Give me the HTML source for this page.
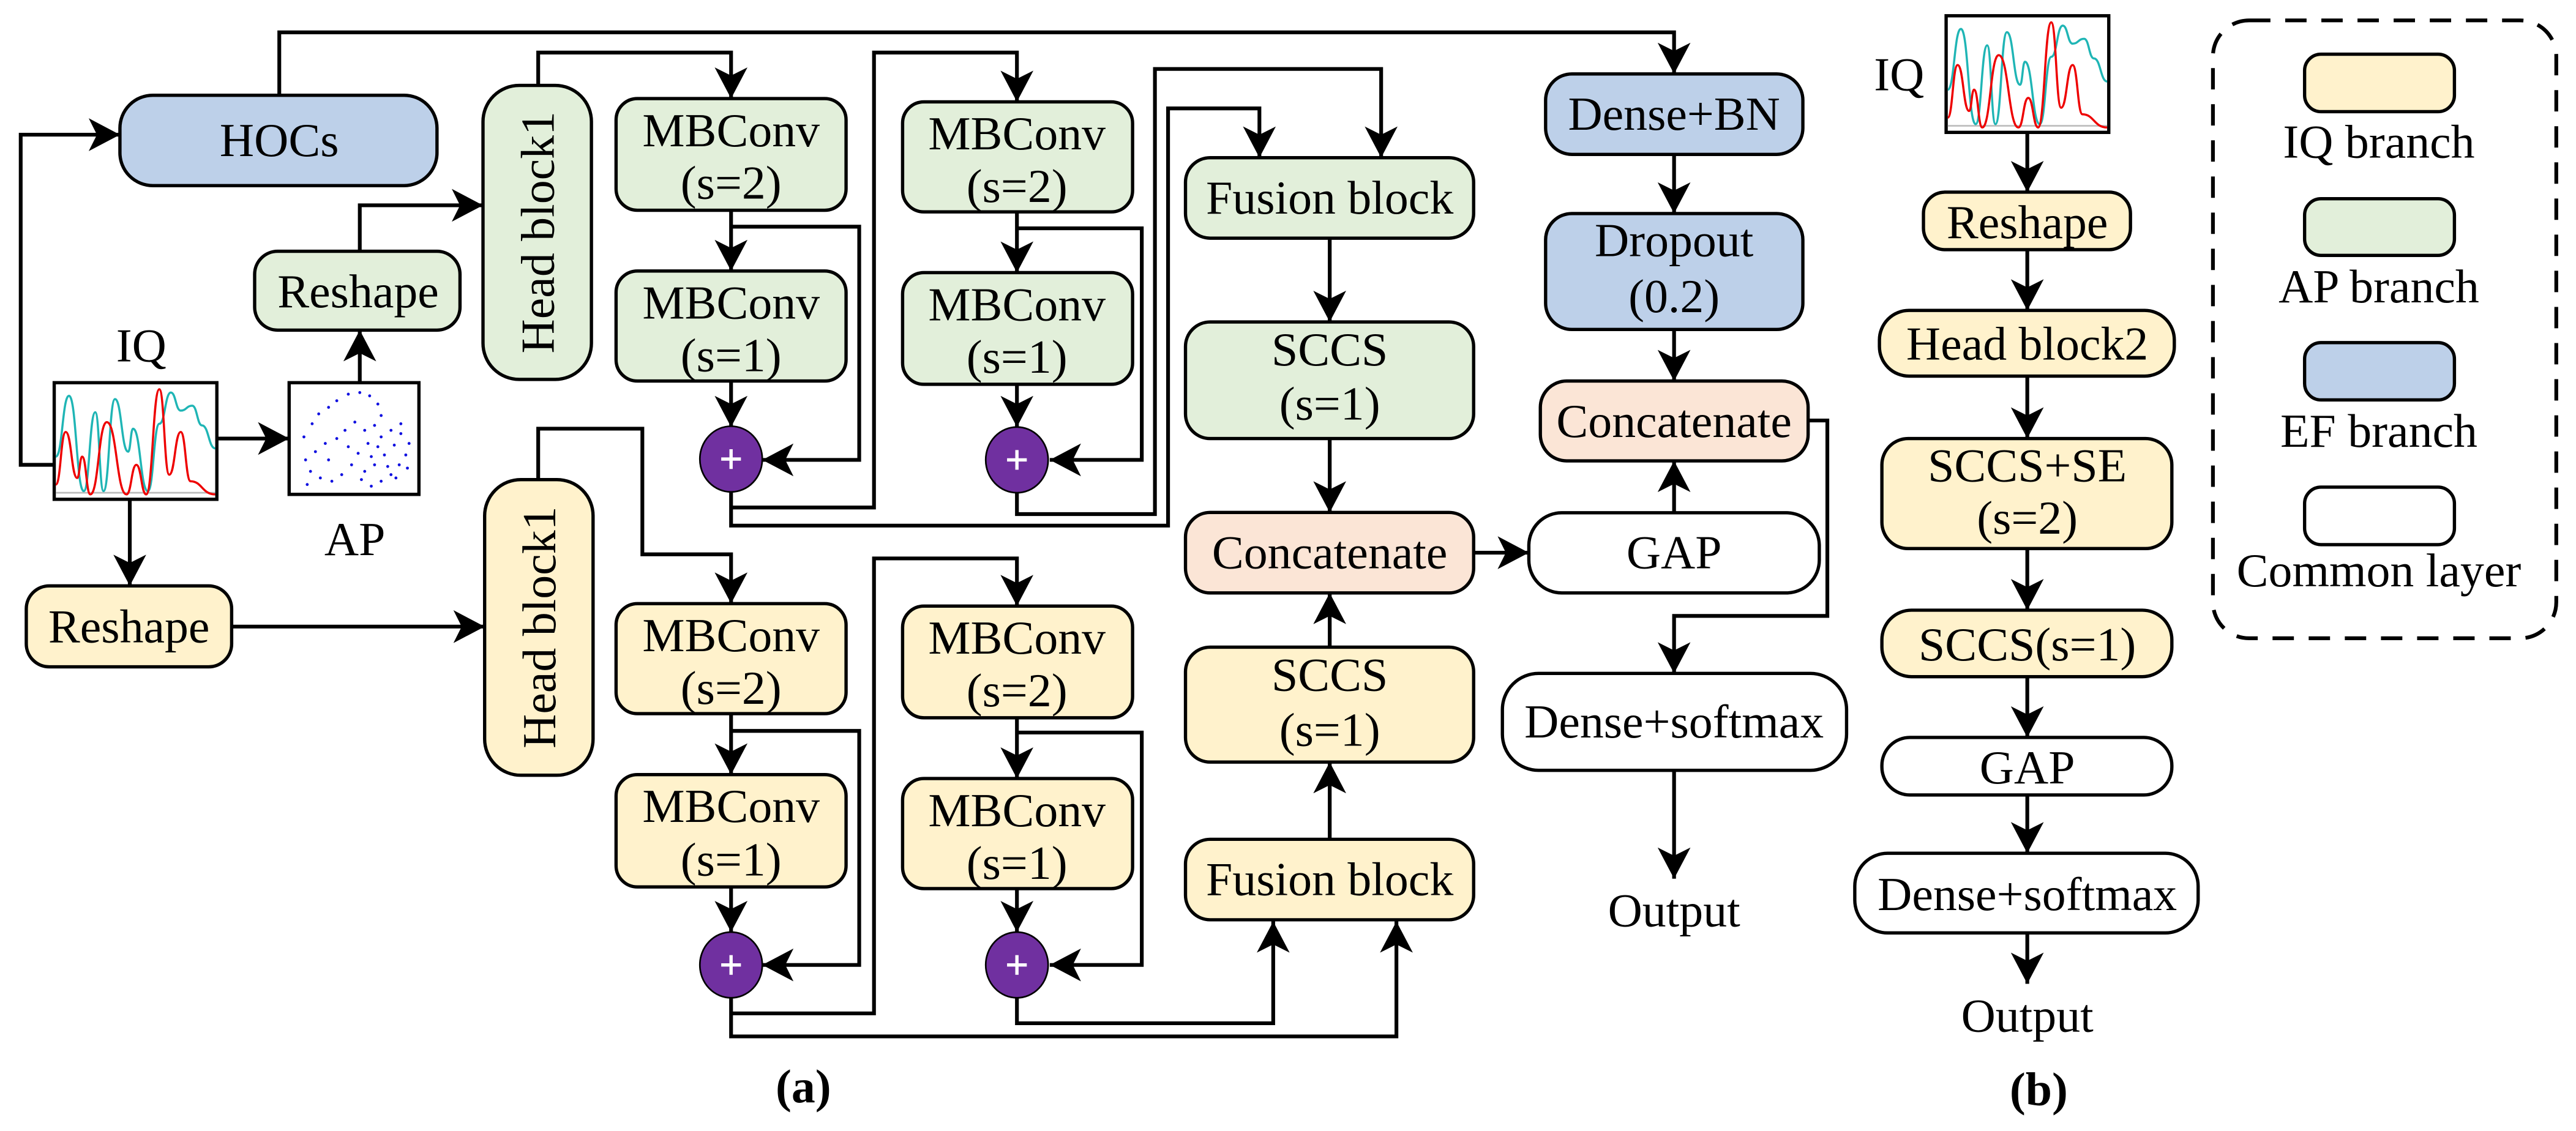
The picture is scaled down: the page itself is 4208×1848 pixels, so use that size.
<!DOCTYPE html>
<html><head><meta charset="utf-8"><style>
html,body{margin:0;padding:0;background:#fff}
svg{display:block}
text{font-family:"Liberation Serif",serif;font-size:29px;fill:#000}
</style></head><body>
<svg width="4208" height="1848" viewBox="0 0 1568 688.6" preserveAspectRatio="none" xmlns="http://www.w3.org/2000/svg">
<defs>
<marker id="a" markerUnits="userSpaceOnUse" markerWidth="20" markerHeight="20" refX="19" refY="10" orient="auto">
<path d="M0,0 L19,10 L0,20 L5,10 Z" fill="#000"/>
</marker>
<clipPath id="pc"><rect x="0" y="0" width="99" height="71"/></clipPath>
<g id="iq">
<rect x="0" y="0" width="99" height="71" fill="#fff" stroke="#000" stroke-width="2"/>
<line x1="1" y1="67" x2="98" y2="67" stroke="#bbb" stroke-width="1"/>
<g clip-path="url(#pc)" fill="none" stroke-width="1.3">
<path stroke="#1fb5b5" d="M1,45 C5,45 5,8 9,8 C13.5,8 13.5,66 18,66 C21.5,66 21.5,18 25,18 C27.5,18 27.5,66 30,66 C33.5,66 33.5,10 37,10 C41,10 41,42 45,42 C46.5,42 46.5,28 48,28 C52.5,28 52.5,66 57,66 C60.5,66 60.5,25 64,25 C67.5,25 67.5,6 71,6 C74,6 74,17 77,17 C80.5,17 80.5,14 84,14 C87,14 87,26 90,26 C94,26 94,40 98,40"/>
<path stroke="#e00" d="M1,62 C4,62 4,30 7,30 C10.5,30 10.5,58 14,58 C15.5,58 15.5,45 17,45 C19.5,45 19.5,68 22,68 C27,68 27,24 32,24 C38,24 38,68 44,68 C47,68 47,50 50,50 C53,50 53,68 56,68 C60,68 60,4 64,4 C67,4 67,56 70,56 C73.5,56 73.5,30 77,30 C80,30 80,60 83,60 C90,60 90,68 98,68"/>
</g>
</g>
</defs>
<g fill="none" stroke="#000" stroke-width="2.3" stroke-linejoin="miter">
<path d="M170,58 V19.7 H1019 V45" marker-end="url(#a)"/>
<path d="M33,283 H12.6 V82 H73" marker-end="url(#a)"/>
<path d="M132,267 H176" marker-end="url(#a)"/>
<path d="M219,233 V201" marker-end="url(#a)"/>
<path d="M219,153 V125 H294" marker-end="url(#a)"/>
<path d="M327.6,52 V32 H445 V60" marker-end="url(#a)"/>
<path d="M445,128 V165" marker-end="url(#a)"/>
<path d="M445,232 V260" marker-end="url(#a)"/>
<path d="M445,138 H523 V280 H464" marker-end="url(#a)"/>
<path d="M445,299 V320 H711 V66 H766.6 V96" marker-end="url(#a)"/>
<path d="M445,309 H532 V32 H619 V62" marker-end="url(#a)"/>
<path d="M619,129 V166" marker-end="url(#a)"/>
<path d="M619,234 V260" marker-end="url(#a)"/>
<path d="M619,139 H695 V280 H639" marker-end="url(#a)"/>
<path d="M619,300 V313 H703 V42 H840.7 V96" marker-end="url(#a)"/>
<path d="M809.4,145 V196" marker-end="url(#a)"/>
<path d="M809.4,267 V312" marker-end="url(#a)"/>
<path d="M897,336.5 H930.6" marker-end="url(#a)"/>
<path d="M79,304 V356.7" marker-end="url(#a)"/>
<path d="M141,381.5 H295" marker-end="url(#a)"/>
<path d="M327.6,292 V261 H391 V337.5 H445 V367.5" marker-end="url(#a)"/>
<path d="M445,434.4 V471.6" marker-end="url(#a)"/>
<path d="M445,540 V567.5" marker-end="url(#a)"/>
<path d="M445,445 H523 V587.5 H464" marker-end="url(#a)"/>
<path d="M445,607 V631 H850 V561" marker-end="url(#a)"/>
<path d="M445,617 H532 V340 H619 V369" marker-end="url(#a)"/>
<path d="M619,437 V474" marker-end="url(#a)"/>
<path d="M619,541 V567.5" marker-end="url(#a)"/>
<path d="M619,446 H695 V587.5 H639" marker-end="url(#a)"/>
<path d="M619,607 V623 H775 V561" marker-end="url(#a)"/>
<path d="M809.4,511 V464" marker-end="url(#a)"/>
<path d="M809.4,394 V361" marker-end="url(#a)"/>
<path d="M1019,94 V130" marker-end="url(#a)"/>
<path d="M1019,200.6 V232" marker-end="url(#a)"/>
<path d="M1019,312 V280.6" marker-end="url(#a)"/>
<path d="M1100.6,256 H1112.3 V375 H1019 V410" marker-end="url(#a)"/>
<path d="M1019,469 V535" marker-end="url(#a)"/>
<path d="M1234,80.4 V117" marker-end="url(#a)"/>
<path d="M1234,152 V189" marker-end="url(#a)"/>
<path d="M1234,229 V267" marker-end="url(#a)"/>
<path d="M1234,334 V371.5" marker-end="url(#a)"/>
<path d="M1234,412 V449" marker-end="url(#a)"/>
<path d="M1234,484 V519.5" marker-end="url(#a)"/>
<path d="M1234,568 V599" marker-end="url(#a)"/>
</g>
<g stroke="#000" stroke-width="2">
<rect x="73" y="58" width="193" height="55" rx="20" fill="#bdd0e9"/>
<rect x="155" y="153" width="125" height="48" rx="14" fill="#e2efda"/>
<rect x="294" y="52" width="66" height="179" rx="22" fill="#e2efda"/>
<rect x="375" y="60" width="140" height="68" rx="13" fill="#e2efda"/>
<rect x="375" y="165" width="140" height="67" rx="13" fill="#e2efda"/>
<rect x="549.4" y="62" width="140" height="67" rx="13" fill="#e2efda"/>
<rect x="549.4" y="166" width="140" height="68" rx="13" fill="#e2efda"/>
<rect x="721.6" y="96" width="175.4" height="49" rx="15" fill="#e2efda"/>
<rect x="721.6" y="196" width="175.4" height="71" rx="15" fill="#e2efda"/>
<rect x="721.6" y="312" width="175.4" height="49" rx="15" fill="#fbe5d6"/>
<rect x="16" y="356.7" width="125" height="49.3" rx="14" fill="#fff2cc"/>
<rect x="295" y="292" width="66" height="180" rx="22" fill="#fff2cc"/>
<rect x="375" y="367.5" width="140" height="67" rx="13" fill="#fff2cc"/>
<rect x="375" y="471.6" width="140" height="68.4" rx="13" fill="#fff2cc"/>
<rect x="549.4" y="369" width="140" height="68" rx="13" fill="#fff2cc"/>
<rect x="549.4" y="474" width="140" height="67" rx="13" fill="#fff2cc"/>
<rect x="721.6" y="394" width="175.4" height="70" rx="15" fill="#fff2cc"/>
<rect x="721.6" y="511" width="175.4" height="49" rx="15" fill="#fff2cc"/>
<rect x="940.8" y="45" width="156.6" height="49" rx="16" fill="#bdd0e9"/>
<rect x="940.8" y="130" width="156.6" height="70.6" rx="16" fill="#bdd0e9"/>
<rect x="937.6" y="232" width="163" height="48.6" rx="16" fill="#fbe5d6"/>
<rect x="930.6" y="312.2" width="176.8" height="48.8" rx="20" fill="#fff"/>
<rect x="914.5" y="410" width="209.5" height="59" rx="22" fill="#fff"/>
<rect x="1170.8" y="117" width="126" height="35" rx="13" fill="#fff2cc"/>
<rect x="1144" y="189" width="179.5" height="40" rx="18" fill="#fff2cc"/>
<rect x="1145.5" y="267" width="176.5" height="67" rx="16" fill="#fff2cc"/>
<rect x="1145.5" y="371.5" width="176.5" height="40.5" rx="18" fill="#fff2cc"/>
<rect x="1145.5" y="449" width="176.5" height="35" rx="17" fill="#fff"/>
<rect x="1129" y="519.5" width="209" height="48.5" rx="20" fill="#fff"/>
<rect x="1402.8" y="33" width="91.2" height="35" rx="10" fill="#fff2cc"/>
<rect x="1402.8" y="121" width="91.2" height="34.5" rx="10" fill="#e2efda"/>
<rect x="1402.8" y="208.6" width="91.2" height="34.9" rx="10" fill="#bdd0e9"/>
<rect x="1402.8" y="296.6" width="91.2" height="35" rx="10" fill="#fff"/>
<rect x="1347" y="12.4" width="209" height="376.2" rx="22" fill="none" stroke-width="2.3" stroke-dasharray="13 9"/>
<ellipse cx="445" cy="279.5" rx="19" ry="20" fill="#7030a0" stroke-width="1"/>
<ellipse cx="619" cy="280" rx="19" ry="20" fill="#7030a0" stroke-width="1"/>
<ellipse cx="445" cy="587.5" rx="19" ry="20" fill="#7030a0" stroke-width="1"/>
<ellipse cx="619" cy="587.5" rx="19" ry="20" fill="#7030a0" stroke-width="1"/>
</g>
<g stroke="#fff" stroke-width="2">
<path d="M439,279.5 H451 M445,273.5 V285.5"/>
<path d="M613,280 H625 M619,274 V286"/>
<path d="M439,587.5 H451 M445,581.5 V593.5"/>
<path d="M613,587.5 H625 M619,581.5 V593.5"/>
</g>
<use href="#iq" transform="translate(33,233)"/>
<use href="#iq" transform="translate(1184.6,9.6)"/>
<rect x="176" y="233" width="79" height="68" fill="#fff" stroke="#000" stroke-width="2"/>
<g fill="#1010e0">
<circle cx="190" cy="258" r="0.9"/><circle cx="194" cy="252" r="0.9"/><circle cx="200" cy="248" r="0.9"/><circle cx="205" cy="244" r="0.9"/><circle cx="212" cy="240" r="0.9"/><circle cx="219" cy="239" r="0.9"/><circle cx="225" cy="241" r="0.9"/><circle cx="230" cy="246" r="0.9"/><circle cx="232" cy="253" r="0.9"/><circle cx="228" cy="259" r="0.9"/><circle cx="222" cy="262" r="0.9"/><circle cx="216" cy="257" r="0.9"/><circle cx="210" cy="262" r="0.9"/><circle cx="205" cy="267" r="0.9"/><circle cx="198" cy="270" r="0.9"/><circle cx="192" cy="275" r="0.9"/><circle cx="186" cy="280" r="0.9"/><circle cx="189" cy="287" r="0.9"/><circle cx="195" cy="291" r="0.9"/><circle cx="202" cy="293" r="0.9"/><circle cx="208" cy="289" r="0.9"/><circle cx="214" cy="283" r="0.9"/><circle cx="218" cy="276" r="0.9"/><circle cx="224" cy="270" r="0.9"/><circle cx="232" cy="266" r="0.9"/><circle cx="238" cy="262" r="0.9"/><circle cx="244" cy="264" r="0.9"/><circle cx="249" cy="270" r="0.9"/><circle cx="247" cy="277" r="0.9"/><circle cx="243" cy="283" r="0.9"/><circle cx="238" cy="289" r="0.9"/><circle cx="232" cy="293" r="0.9"/><circle cx="226" cy="296" r="0.9"/><circle cx="220" cy="292" r="0.9"/><circle cx="228" cy="283" r="0.9"/><circle cx="234" cy="277" r="0.9"/><circle cx="240" cy="271" r="0.9"/><circle cx="222" cy="287" r="0.9"/><circle cx="236" cy="284" r="0.9"/><circle cx="244" cy="258" r="0.9"/><circle cx="185" cy="266" r="0.9"/><circle cx="200" cy="280" r="0.9"/><circle cx="230" cy="272" r="0.9"/><circle cx="241" cy="291" r="0.9"/><circle cx="226" cy="278" r="0.9"/><circle cx="212" cy="272" r="0.9"/><circle cx="187" cy="295" r="0.9"/><circle cx="248" cy="285" r="0.9"/>
</g>
<g text-anchor="middle">
<text x="170" y="95">HOCs</text>
<text x="218" y="187">Reshape</text>
<text transform="translate(337,141.5) rotate(-90)">Head block1</text>
<text x="445" y="89">MBConv</text><text x="445" y="121">(s=2)</text>
<text x="445" y="194">MBConv</text><text x="445" y="226">(s=1)</text>
<text x="619" y="91">MBConv</text><text x="619" y="123">(s=2)</text>
<text x="619" y="195">MBConv</text><text x="619" y="227">(s=1)</text>
<text x="809.4" y="130">Fusion block</text>
<text x="809.4" y="222.5">SCCS</text><text x="809.4" y="255.5">(s=1)</text>
<text x="809.4" y="346">Concatenate</text>
<text x="86" y="220" font-size="30">IQ</text>
<text x="216" y="338" font-size="30">AP</text>
<text x="78.5" y="391">Reshape</text>
<text transform="translate(338,382) rotate(-90)">Head block1</text>
<text x="445" y="396.5">MBConv</text><text x="445" y="428.5">(s=2)</text>
<text x="445" y="500.5">MBConv</text><text x="445" y="533">(s=1)</text>
<text x="619" y="398">MBConv</text><text x="619" y="430">(s=2)</text>
<text x="619" y="503">MBConv</text><text x="619" y="535">(s=1)</text>
<text x="809.4" y="420.5">SCCS</text><text x="809.4" y="454">(s=1)</text>
<text x="809.4" y="545">Fusion block</text>
<text x="1019" y="79">Dense+BN</text>
<text x="1019" y="156">Dropout</text><text x="1019" y="190">(0.2)</text>
<text x="1019" y="266">Concatenate</text>
<text x="1019" y="346">GAP</text>
<text x="1019" y="449">Dense+softmax</text>
<text x="1019" y="564">Output</text>
<text x="489" y="671" font-weight="bold">(a)</text>
<text x="1156" y="55" font-size="30">IQ</text>
<text x="1234" y="145">Reshape</text>
<text x="1234" y="219">Head block2</text>
<text x="1234" y="293">SCCS+SE</text><text x="1234" y="325">(s=2)</text>
<text x="1234" y="402">SCCS(s=1)</text>
<text x="1234" y="477">GAP</text>
<text x="1234" y="554">Dense+softmax</text>
<text x="1234" y="628">Output</text>
<text x="1241" y="673" font-weight="bold">(b)</text>
<text x="1448" y="96">IQ branch</text>
<text x="1448" y="184">AP branch</text>
<text x="1448" y="272">EF branch</text>
<text x="1448" y="357">Common layer</text>
</g>
</svg>
</body></html>
